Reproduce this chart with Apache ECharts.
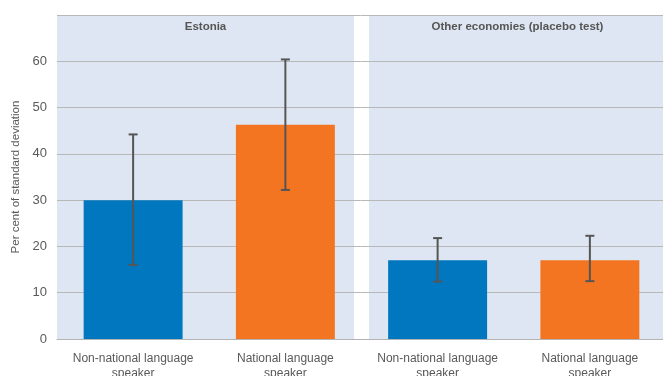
<!DOCTYPE html>
<html>
<head>
<meta charset="utf-8">
<script src="https://cdn.jsdelivr.net/npm/echarts@6/dist/echarts.min.js"></script>
<style>
  html, body { margin: 0; padding: 0; background: #ffffff; }
  #chart { width: 663px; height: 376px; }
</style>
</head>
<body>
<div id="chart"></div>
<script>
// Effect sizes by language group, with confidence bounds
const categories = [
  'Non-national language\nspeaker',
  'National language\nspeaker',
  'Non-national language\nspeaker',
  'National language\nspeaker'
];
const values = [30.0, 46.3, 17.0, 17.0];
const lowerBounds = [16.0, 32.2, 12.4, 12.5];
const upperBounds = [44.2, 60.4, 21.8, 22.3];
const barColors = ['#0077be', '#f47521', '#0077be', '#f47521'];

// Shaded panels: first and last category index of each group
const panelTitles = ['Estonia', 'Other economies (placebo test)'];
const panelStart = [0, 2];
const panelEnd = [1, 3];

const sans = '"Liberation Sans", Arial, sans-serif';
const textColor = '#595959';

const chart = echarts.init(document.getElementById('chart'), null, { renderer: 'canvas' });

const panelData = panelTitles.map((t, i) => [panelStart[i], panelEnd[i], t]);
const barData = values.map((v, i) => ({ value: v, itemStyle: { color: barColors[i] } }));
const errData = values.map((v, i) => [i, lowerBounds[i], upperBounds[i]]);

chart.setOption({
  animation: false,
  grid: { left: 57, top: 15, width: 609, height: 324, containLabel: false, outerBoundsMode: 'none' },
  xAxis: {
    type: 'category',
    data: categories,
    z: 1,
    axisLine: { lineStyle: { color: '#b3b3b3', width: 1 } },
    axisTick: { alignWithLabel: true, length: 6, lineStyle: { color: '#b3b3b3' } },
    axisLabel: {
      color: textColor,
      fontFamily: sans,
      fontSize: 12,
      lineHeight: 15,
      margin: 12,
      interval: 0
    }
  },
  yAxis: {
    type: 'value',
    min: 0,
    max: 70,
    interval: 10,
    z: 1,
    name: 'Per cent of standard deviation',
    nameLocation: 'middle',
    nameGap: 33,
    nameTextStyle: { color: textColor, fontFamily: sans, fontSize: 11.5 },
    axisLine: { show: false },
    axisTick: { show: false },
    axisLabel: {
      color: textColor,
      fontFamily: sans,
      fontSize: 13,
      margin: 10,
      formatter: v => (v === 70 ? '' : String(v))
    },
    splitLine: { lineStyle: { color: '#b8b8b8', width: 1 } }
  },
  series: [
    {
      // background panels behind the grid lines
      type: 'custom',
      z: 0,
      silent: true,
      encode: { x: [0, 1] },
      data: panelData,
      renderItem: (params, api) => {
        const cs = params.coordSys;
        const bw = api.size([1, 0])[0];
        const gap = 7.5;
        const i = params.dataIndex;
        const last = params.dataInsideLength - 1;
        let x0 = api.coord([api.value(0), 0])[0] - bw / 2;
        let x1 = api.coord([api.value(1), 0])[0] + bw / 2;
        if (i > 0) x0 += gap;
        if (i < last) x1 -= gap;
        return {
          type: 'group',
          children: [
            {
              type: 'rect',
              shape: { x: x0, y: cs.y, width: x1 - x0, height: cs.height },
              style: { fill: '#dfe6f3' }
            },
            {
              type: 'text',
              style: {
                text: panelTitles[i],
                x: (x0 + x1) / 2,
                y: cs.y + 12,
                align: 'center',
                verticalAlign: 'middle',
                fill: '#555555',
                font: 'bold 11.5px ' + sans
              }
            }
          ]
        };
      }
    },
    {
      type: 'bar',
      z: 2,
      barWidth: '65%',
      data: barData
    },
    {
      // error bars with caps
      type: 'custom',
      z: 3,
      encode: { x: 0, y: [1, 2] },
      data: errData,
      renderItem: (params, api) => {
        const lo = api.coord([api.value(0), api.value(1)]);
        const hi = api.coord([api.value(0), api.value(2)]);
        const cap = 4.5;
        const style = { stroke: '#555555', lineWidth: 2 };
        return {
          type: 'group',
          children: [
            { type: 'line', shape: { x1: hi[0], y1: hi[1], x2: lo[0], y2: lo[1] }, style },
            { type: 'line', shape: { x1: hi[0] - cap, y1: hi[1], x2: hi[0] + cap, y2: hi[1] }, style },
            { type: 'line', shape: { x1: lo[0] - cap, y1: lo[1], x2: lo[0] + cap, y2: lo[1] }, style }
          ]
        };
      }
    }
  ]
});
</script>
</body>
</html>
